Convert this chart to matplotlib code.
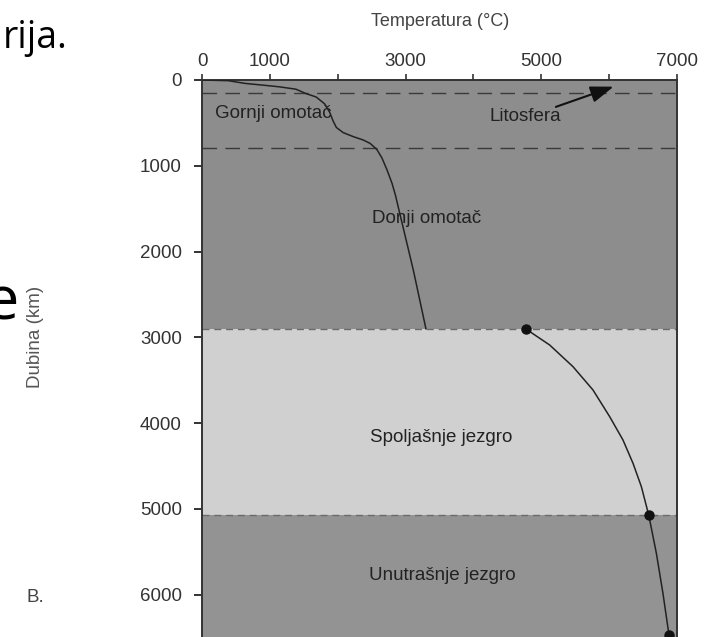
import matplotlib
matplotlib.use("Agg")
import matplotlib.pyplot as plt

plt.rcParams['font.family'] = ['Liberation Sans', 'DejaVu Sans']

# temperature (C) vs depth (km)
mantle_T = [0, 388, 637, 886, 1134, 1383, 1532, 1682, 1806, 1881, 1930, 1980,
            2080, 2229, 2378, 2478, 2577, 2652, 2726, 2801, 2851, 3116, 3300]
mantle_d = [0, 8, 40, 59, 79, 107, 158, 198, 277, 375, 474, 553,
            613, 660, 700, 739, 810, 909, 1047, 1206, 1344, 2222, 2900]
core_T = [4770, 5124, 5467, 5762, 6008, 6204, 6352, 6475, 6583, 6696, 6793, 6882]
core_d = [2900, 3089, 3341, 3613, 3924, 4196, 4468, 4740, 5070, 5517, 5983, 6469]
dot_T = [4770, 6583, 6882]
dot_d = [2900, 5070, 6469]

# layer boundaries (km)
litho_d = 150
upper_d = 790
cmb_d = 2900
icb_d = 5070
max_d = 6492

layer_labels = ["Gornji omotač", "Donji omotač", "Spoljašnje jezgro", "Unutrašnje jezgro"]
label_T = [187, 2500, 2470, 2460]
label_d = [390, 1610, 4170, 5780]

x_ticks = [0, 1000, 2000, 3000, 4000, 5000, 6000, 7000]
x_ticklabels = ["0", "1000", "", "3000", "", "5000", "", "7000"]
y_ticks = [0, 1000, 2000, 3000, 4000, 5000, 6000]

W, H = 708, 637
fig = plt.figure(figsize=(W / 100, H / 100), dpi=100)
fig.patch.set_facecolor("white")
ax = fig.add_axes([202 / W, 0, 475 / W, 557 / H])

# shaded layers
ax.axhspan(0, cmb_d, color="#8d8d8d", lw=0, zorder=0)
ax.axhspan(cmb_d, icb_d, color="#d0d0d0", lw=0, zorder=0)
ax.axhspan(icb_d, max_d, color="#939393", lw=0, zorder=0)

# boundaries
for d in [litho_d, upper_d]:
    ax.axhline(d, color="#3a3a3a", lw=1.0, ls=(0, (10.5, 6)), zorder=1)
for d in [cmb_d, icb_d]:
    ax.axhline(d, color="#6a6a6a", lw=1.0, ls=(0, (5, 3.5)), zorder=1)

ax.plot(mantle_T, mantle_d, color="#222222", lw=1.1, zorder=3)
ax.plot(core_T, core_d, color="#222222", lw=1.1, zorder=3)
ax.plot(dot_T, dot_d, "o", color="#111111", ms=6.5, zorder=4, clip_on=False)

for txt, t, d in zip(layer_labels, label_T, label_d):
    ax.text(t, d, txt, ha="left", va="center", fontsize=13.5, color="#222222", zorder=5)

ax.text(4232, 420, "Litosfera", ha="left", va="center", fontsize=13.5, color="#222222", zorder=5)
ax.annotate("", xy=(6104, 67), xytext=(5176, 324),
            arrowprops=dict(arrowstyle="-|>,head_length=0.7,head_width=0.25",
                            color="#111111", lw=1.5, mutation_scale=20), zorder=5)

ax.set_xlim(0, 7000)
ax.set_ylim(max_d, 0)
ax.xaxis.tick_top()
ax.set_xticks(x_ticks)
ax.set_xticklabels(x_ticklabels)
ax.set_yticks(y_ticks)
ax.tick_params(axis="x", direction="out", length=4, width=1.2, pad=3.5,
               labelsize=13.5, colors="#333333")
ax.tick_params(axis="y", direction="out", length=6, width=1.4, pad=8.5,
               labelsize=13.5, colors="#333333")
for s in ["top", "left", "right"]:
    ax.spines[s].set_color("#333333")
    ax.spines[s].set_linewidth(1.4)
ax.spines["bottom"].set_visible(False)

fig.text(440 / W, 1 - 22 / H, "Temperatura (°C)", ha="center", va="center",
         fontsize=13, color="#444444")
fig.text(36 / W, 1 - 337 / H, "Dubina (km)", ha="center", va="center",
         rotation=90, fontsize=13.5, color="#555555")
fig.text(27 / W, 1 - 598 / H, "B.", ha="left", va="center", fontsize=13.5, color="#444444")

# leftover slide text at the edge
fig.text(68 / W, 1 - 48 / H, "rija.", ha="right", va="baseline",
         fontsize=27, family=["Open Sans", "DejaVu Sans"], color="black")
fig.text(19 / W, 1 - 320 / H, "e", ha="right", va="baseline",
         fontsize=44, family=["Open Sans", "DejaVu Sans"], color="black")

fig.savefig("out.png", dpi=100)
